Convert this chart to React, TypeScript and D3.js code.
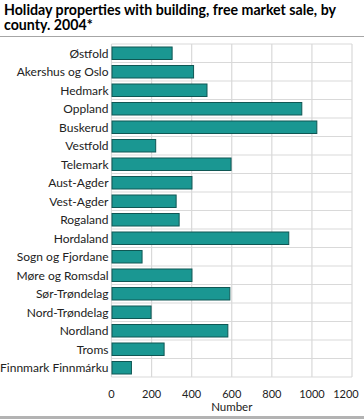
import React, { useEffect, useRef } from 'react';
import * as d3 from 'd3';

const counties = [
  'Østfold',
  'Akershus og Oslo',
  'Hedmark',
  'Oppland',
  'Buskerud',
  'Vestfold',
  'Telemark',
  'Aust-Agder',
  'Vest-Agder',
  'Rogaland',
  'Hordaland',
  'Sogn og Fjordane',
  'Møre og Romsdal',
  'Sør-Trøndelag',
  'Nord-Trøndelag',
  'Nordland',
  'Troms',
  'Finnmark Finnmárku',
];
const values = [300, 407, 474, 947, 1022, 218, 594, 399, 320, 335, 882, 150, 399, 588, 195, 578, 260, 97];
const xTicks = [0, 200, 400, 600, 800, 1000, 1200];
const titleLines = ['Holiday properties with building, free market sale, by', 'county. 2004*'];

const W = 364;
const H = 419;

const App: React.FC = () => {
  const ref = useRef<SVGSVGElement>(null);

  useEffect(() => {
    if (!ref.current) return;
    const svg = d3.select(ref.current);
    svg.selectAll('*').remove();

    const margin = { top: 44, left: 111.5, right: 12, bottom: 42 };
    const plotW = W - margin.left - margin.right;
    const plotH = H - margin.top - margin.bottom;
    const font = "Lato, 'Noto Sans', sans-serif";

    // title
    svg.append('g')
      .selectAll('text')
      .data(titleLines)
      .enter()
      .append('text')
      .attr('x', 4)
      .attr('y', (_d, i) => 14.5 + i * 15.5)
      .style('font-family', font)
      .style('font-size', '14.2px')
      .style('font-weight', 700)
      .style('fill', '#000')
      .text((d) => d);

    svg.append('line')
      .attr('x1', 0).attr('x2', W)
      .attr('y1', 36.5).attr('y2', 36.5)
      .attr('stroke', '#a6a6a6').attr('stroke-width', 1);

    svg.append('line')
      .attr('x1', 0).attr('x2', W)
      .attr('y1', 417.5).attr('y2', 417.5)
      .attr('stroke', '#b3b3b3').attr('stroke-width', 3);

    const g = svg.append('g').attr('transform', `translate(${margin.left},${margin.top})`);

    const x = d3.scaleLinear().domain([0, 1200]).range([0, plotW]);
    const y = d3.scaleBand<string>().domain(counties).range([0, plotH]).paddingInner(0.27).paddingOuter(0.135);
    const step = y.step();

    // horizontal grid at band boundaries
    g.append('g')
      .selectAll('line')
      .data(d3.range(counties.length + 1))
      .enter()
      .append('line')
      .attr('x1', 0).attr('x2', plotW)
      .attr('y1', (i) => i * step).attr('y2', (i) => i * step)
      .attr('stroke', '#d9d9d9').attr('stroke-width', 1.2);

    // vertical grid
    g.append('g')
      .selectAll('line')
      .data(xTicks)
      .enter()
      .append('line')
      .attr('x1', (d) => x(d)).attr('x2', (d) => x(d))
      .attr('y1', 0).attr('y2', plotH)
      .attr('stroke', '#d9d9d9').attr('stroke-width', 1.2);

    g.append('g')
      .selectAll('rect')
      .data(values)
      .enter()
      .append('rect')
      .attr('x', x(0) + 0.5)
      .attr('y', (_d, i) => (y(counties[i]) as number) + 0.5)
      .attr('width', (d) => x(d) - x(0))
      .attr('height', y.bandwidth() - 1)
      .attr('fill', '#1a9792')
      .attr('stroke', '#0f5754')
      .attr('stroke-width', 1);

    // category labels
    g.append('g')
      .selectAll('text')
      .data(counties)
      .enter()
      .append('text')
      .attr('x', -3)
      .attr('y', (d) => (y(d) as number) + y.bandwidth() / 2)
      .attr('dy', '0.36em')
      .attr('text-anchor', 'end')
      .style('font-family', font)
      .style('font-size', '12px')
      .style('fill', '#222')
      .text((d) => d);

    // x tick labels (last one pulled in so it stays inside the frame)
    g.append('g')
      .selectAll('text')
      .data(xTicks)
      .enter()
      .append('text')
      .attr('x', (d) => Math.min(x(d), plotW - 6))
      .attr('y', plotH + 21)
      .attr('text-anchor', 'middle')
      .style('font-family', font)
      .style('font-size', '11px')
      .style('fill', '#222')
      .text((d) => String(d));

    g.append('text')
      .attr('x', plotW / 2)
      .attr('y', plotH + 33.5)
      .attr('text-anchor', 'middle')
      .style('font-family', font)
      .style('font-size', '11.5px')
      .style('fill', '#222')
      .text('Number');
  }, []);

  return (
    <svg
      ref={ref}
      width={W}
      height={H}
      style={{ position: 'absolute', left: 0, top: 0, background: '#fff' }}
    />
  );
};

export default App;
